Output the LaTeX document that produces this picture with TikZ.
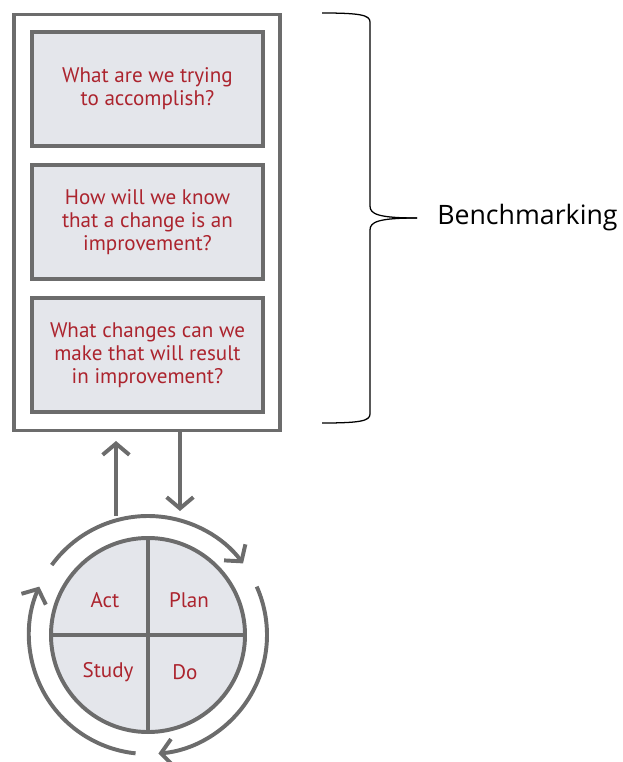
\documentclass[tikz,border=0pt]{standalone}
\usepackage{fontspec}
\setmainfont{Open Sans}
\newfontfamily\qfont{PT Sans}
\usetikzlibrary{arrows.meta, positioning}

\definecolor{pdsagray}{RGB}{108,108,108}
\definecolor{pdsafill}{RGB}{228,230,235}
\definecolor{pdsared}{RGB}{172,36,46}

\begin{document}
\begin{tikzpicture}[x=0.025cm, y=0.025cm,
  >={Straight Barb[length=8pt, width=19pt]},
  question/.style={draw=pdsagray, line width=2.8pt, fill=pdsafill,
    minimum width=5.78cm, minimum height=2.85cm, align=center,
    text=pdsared, font=\qfont\fontsize{15}{16.5}\selectfont},
  phase/.style={text=pdsared, font=\qfont\fontsize{15}{18}\selectfont},
  link/.style={draw=pdsagray, line width=2.8pt, ->},
  brace line/.style={line width=0.9pt, black}]
  \useasboundingbox (0,0) rectangle (623,-762);
  % outer frame with the three questions
  \node[draw=pdsagray, line width=2.4pt, minimum width=6.65cm,
        minimum height=10.4cm, inner sep=0] (frame) at (147,-222.5) {};
  \node[question] (q2) at (147.5,-222) {How will we know\\that a change is an\\improvement?};
  \node[question, above=0.38cm of q2] (q1) {What are we trying\\to accomplish?};
  \node[question, below=0.38cm of q2] (q3) {What changes can we\\make that will result\\in improvement?};
  % PDSA wheel
  \node[circle, draw=pdsagray, fill=pdsafill, line width=2.8pt,
        minimum size=4.85cm, inner sep=0] (pdsa) at (148,-635) {};
  \draw[draw=pdsagray, line width=2.8pt] (pdsa.north) -- (pdsa.south);
  \draw[draw=pdsagray, line width=2.8pt] (pdsa.west) -- (pdsa.east);
  \node[phase] (act) at (105,-600) {Act};
  \node[phase] (plan) at (189,-600) {Plan};
  \node[phase] (study) at (108,-672) {Study};
  \node[phase] (do) at (185,-672) {Do};
  % cycle arrows round the wheel
  \draw[link] (pdsa.center) ++(144:119) arc[start angle=144, end angle=37, radius=119];
  \draw[link] (pdsa.center) ++(24:119) arc[start angle=24, end angle=-85, radius=119];
  \draw[link] (pdsa.center) ++(-96:119) arc[start angle=-96, end angle=-204, radius=119];
  % arrows between wheel and frame
  \coordinate (upfoot) at (116,-516);
  \coordinate (uptip) at (116,-441);
  \coordinate (downtip) at (180,-511);
  \draw[link] (upfoot) -- (uptip);
  \draw[link] (frame.south -| downtip) -- (downtip);
  % brace
  \coordinate (bracetip) at (417,-218);
  \draw[brace line] (322,-13) .. controls (360,-13) and (370,-15) .. (370,-22)
    -- (370,-206) .. controls (370,-214) and (378,-218) .. (bracetip);
  \draw[brace line] (bracetip) .. controls (378,-218) and (370,-222) .. (370,-230)
    -- (370,-414) .. controls (370,-421) and (360,-423) .. (322,-423);
  \node[anchor=west, inner sep=0, font=\fontsize{19}{22}\selectfont] (bench)
    at ([xshift=0.5cm]bracetip) {Benchmarking};
\end{tikzpicture}
\end{document}
